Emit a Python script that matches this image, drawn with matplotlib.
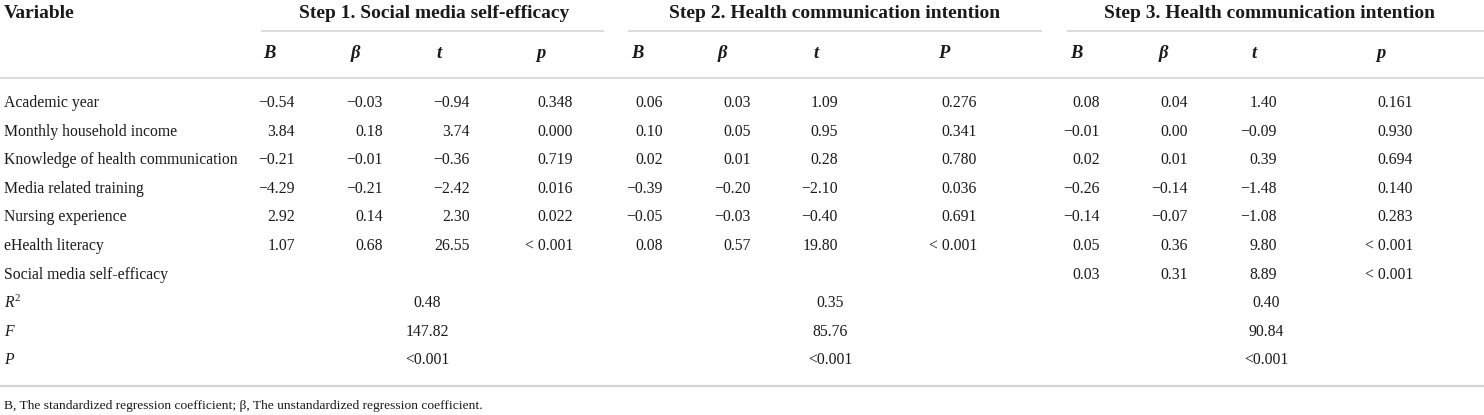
import matplotlib
matplotlib.use("Agg")
import matplotlib.pyplot as plt

# ---------------- data ----------------
variables = ["Academic year", "Monthly household income",
             "Knowledge of health communication", "Media related training",
             "Nursing experience", "eHealth literacy", "Social media self-efficacy"]
step_titles = ["Step 1. Social media self-efficacy",
               "Step 2. Health communication intention",
               "Step 3. Health communication intention"]
col_labels = [["B", "β", "t", "p"], ["B", "β", "t", "P"], ["B", "β", "t", "p"]]

step1_B = [-0.54, 3.84, -0.21, -4.29, 2.92, 1.07, None]
step1_beta = [-0.03, 0.18, -0.01, -0.21, 0.14, 0.68, None]
step1_t = [-0.94, 3.74, -0.36, -2.42, 2.30, 26.55, None]
step1_p = ["0.348", "0.000", "0.719", "0.016", "0.022", "< 0.001", ""]

step2_B = [0.06, 0.10, 0.02, -0.39, -0.05, 0.08, None]
step2_beta = [0.03, 0.05, 0.01, -0.20, -0.03, 0.57, None]
step2_t = [1.09, 0.95, 0.28, -2.10, -0.40, 19.80, None]
step2_p = ["0.276", "0.341", "0.780", "0.036", "0.691", "< 0.001", ""]

step3_B = [0.08, -0.01, 0.02, -0.26, -0.14, 0.05, 0.03]
step3_beta = [0.04, 0.00, 0.01, -0.14, -0.07, 0.36, 0.31]
step3_t = [1.40, -0.09, 0.39, -1.48, -1.08, 9.80, 8.89]
step3_p = ["0.161", "0.930", "0.694", "0.140", "0.283", "< 0.001", "< 0.001"]

summary_labels = ["$R^{\\mathrm{2}}$", "F", "P"]
r_squared = [0.48, 0.35, 0.40]
f_values = [147.82, 85.76, 90.84]
model_p = ["<0.001", "<0.001", "<0.001"]

footnote = "B, The standardized regression coefficient; β, The unstandardized regression coefficient."

# ---------------- layout ----------------
W, H = 1484, 415
plt.rcParams["mathtext.fontset"] = "custom"
plt.rcParams["mathtext.it"] = "Liberation Serif:italic"
plt.rcParams["mathtext.rm"] = "Liberation Serif"
FONT = ["Liberation Serif", "DejaVu Serif"]
TXT = "#1a1a1a"
LINE = "#d4d4d4"

fig = plt.figure(figsize=(W / 100, H / 100), dpi=100)
ax = fig.add_axes([0, 0, 1, 1])
ax.set_xlim(0, W)
ax.set_ylim(H, 0)
ax.axis("off")

body = 11.3
head = 14

col_right = [[295, 383, 470, 573], [663, 751, 838, 977], [1100, 1188, 1277, 1413]]
col_head = [[269, 355, 439, 541], [637, 722, 816, 944], [1076, 1163, 1254, 1381]]
group_center = [434, 835, 1269]
group_span = [(261, 604), (628, 1042), (1067, 1484)]
summary_center = [427, 830, 1266]

y_title, y_uline, y_colhead, y_hline = 13, 31, 53, 78
row0, drow = 103, 28.6
y_bottom, y_foot = 386, 406


def fmt(v):
    if v is None:
        return ""
    s = f"{v:.2f}"
    return s.replace("-", "\u2212")


# header
ax.text(4, y_title, "Variable", ha="left", va="center", fontsize=head,
        fontweight="bold", family=FONT, color=TXT)
for g in range(3):
    ax.text(group_center[g], y_title, step_titles[g], ha="center", va="center",
            fontsize=head, fontweight="bold", family=FONT, color=TXT)
    x0, x1 = group_span[g]
    ax.plot([x0, x1], [y_uline, y_uline], color=LINE, lw=1.2, solid_capstyle="butt")
    for c in range(4):
        ax.text(col_head[g][c], y_colhead, col_labels[g][c], ha="center", va="center",
                fontsize=body + 2, fontweight="bold", fontstyle="italic",
                family=FONT, color=TXT)
ax.plot([0, W], [y_hline, y_hline], color=LINE, lw=1.2, solid_capstyle="butt")

# body rows
steps = [
    [step1_B, step1_beta, step1_t, step1_p],
    [step2_B, step2_beta, step2_t, step2_p],
    [step3_B, step3_beta, step3_t, step3_p],
]
for i, name in enumerate(variables):
    y = row0 + i * drow
    ax.text(4, y, name, ha="left", va="center", fontsize=body, family=FONT, color=TXT)
    for g in range(3):
        for c in range(4):
            v = steps[g][c][i]
            s = v if isinstance(v, str) else fmt(v)
            ax.text(col_right[g][c], y, s, ha="right", va="center", fontsize=body,
                    family=FONT, color=TXT)

# summary rows
summary_vals = [[f"{v:.2f}" for v in r_squared], [f"{v:.2f}" for v in f_values], model_p]
for k, lab in enumerate(summary_labels):
    y = row0 + (len(variables) + k) * drow
    ax.text(4, y, lab, ha="left", va="center", fontsize=body, fontstyle="italic",
            family=FONT, color=TXT)
    for g in range(3):
        ax.text(summary_center[g], y, summary_vals[k][g], ha="center", va="center",
                fontsize=body, family=FONT, color=TXT)

ax.plot([0, W], [y_bottom, y_bottom], color=LINE, lw=1.6, solid_capstyle="butt")
ax.text(4, y_foot, footnote, ha="left", va="center", fontsize=9.7, family=FONT, color=TXT)

fig.savefig("out.png", dpi=100)
